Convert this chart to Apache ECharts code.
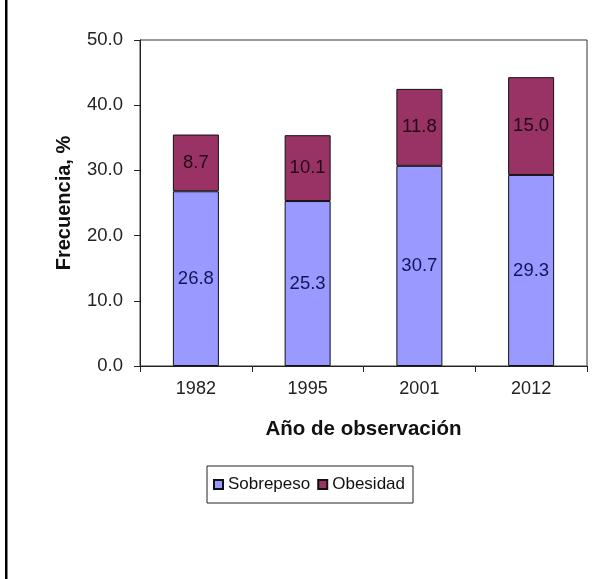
<!DOCTYPE html>
<html>
<head>
<meta charset="utf-8">
<script src="https://cdn.jsdelivr.net/npm/echarts@6/dist/echarts.min.js"></script>
<style>
  html, body { margin: 0; padding: 0; background: #fff; }
  #chart { width: 612px; height: 579px; }
</style>
</head>
<body>
<div id="chart"></div>
<script>
// Survey years and stacked prevalence (%) by category
const years = ['1982', '1995', '2001', '2012'];
const sobrepeso = [26.8, 25.3, 30.7, 29.3];
const obesidad = [8.7, 10.1, 11.8, 15.0];

const FONT = '"Liberation Sans", Arial, sans-serif';

const chart = echarts.init(document.getElementById('chart'), null, { renderer: 'canvas' });

chart.setOption({
  backgroundColor: '#ffffff',
  animation: false,
  textStyle: { fontFamily: FONT },
  grid: {
    left: 140, right: 25, top: 40, bottom: 213,
    show: true, borderColor: '#333', borderWidth: 1, backgroundColor: 'transparent'
  },
  legend: {
    left: 207, top: 466,
    itemWidth: 9, itemHeight: 9, itemGap: 7,
    icon: 'rect',
    padding: [10, 8, 10, 6],
    borderColor: '#222', borderWidth: 1,
    textStyle: { fontFamily: FONT, fontSize: 17, color: '#111' },
    data: ['Sobrepeso', 'Obesidad']
  },
  xAxis: {
    type: 'category',
    data: years,
    boundaryGap: true,
    name: 'Año de observación',
    nameLocation: 'middle',
    nameGap: 53,
    nameTextStyle: { fontFamily: FONT, fontSize: 20.5, fontWeight: 'bold', color: '#111' },
    axisLine: { lineStyle: { color: '#222', width: 1 } },
    axisTick: { show: true, length: 6, inside: false, lineStyle: { color: '#222' } },
    axisLabel: { fontFamily: FONT, fontSize: 18, color: '#222', margin: 14 },
    splitLine: { show: false }
  },
  yAxis: {
    type: 'value',
    min: 0, max: 50, interval: 10,
    name: 'Frecuencia, %',
    nameLocation: 'middle',
    nameGap: 66,
    nameTextStyle: { fontFamily: FONT, fontSize: 20, fontWeight: 'bold', color: '#111' },
    axisLine: { show: true, lineStyle: { color: '#222', width: 1 } },
    axisTick: { show: true, length: 6, lineStyle: { color: '#222' } },
    axisLabel: {
      fontFamily: FONT, fontSize: 18.5, color: '#222', margin: 17,
      formatter: v => v.toFixed(1)
    },
    splitLine: { show: false }
  },
  series: [
    {
      name: 'Sobrepeso',
      type: 'bar',
      stack: 'total',
      data: sobrepeso,
      barWidth: 46,
      itemStyle: { color: '#9999ff', borderColor: '#111', borderWidth: 1 },
      label: {
        show: true, position: 'inside',
        fontFamily: FONT, fontSize: 18.5, color: '#14145a',
        formatter: p => p.value.toFixed(1)
      }
    },
    {
      name: 'Obesidad',
      type: 'bar',
      stack: 'total',
      data: obesidad,
      barWidth: 46,
      itemStyle: { color: '#993366', borderColor: '#111', borderWidth: 1 },
      label: {
        show: true, position: 'inside',
        fontFamily: FONT, fontSize: 18.5, color: '#220814',
        formatter: p => p.value.toFixed(1)
      }
    }
  ],
  graphic: [
    {
      type: 'rect',
      shape: { x: 5, y: 0, width: 2.5, height: 579 },
      style: { fill: '#000' },
      silent: true
    }
  ]
});
</script>
</body>
</html>
